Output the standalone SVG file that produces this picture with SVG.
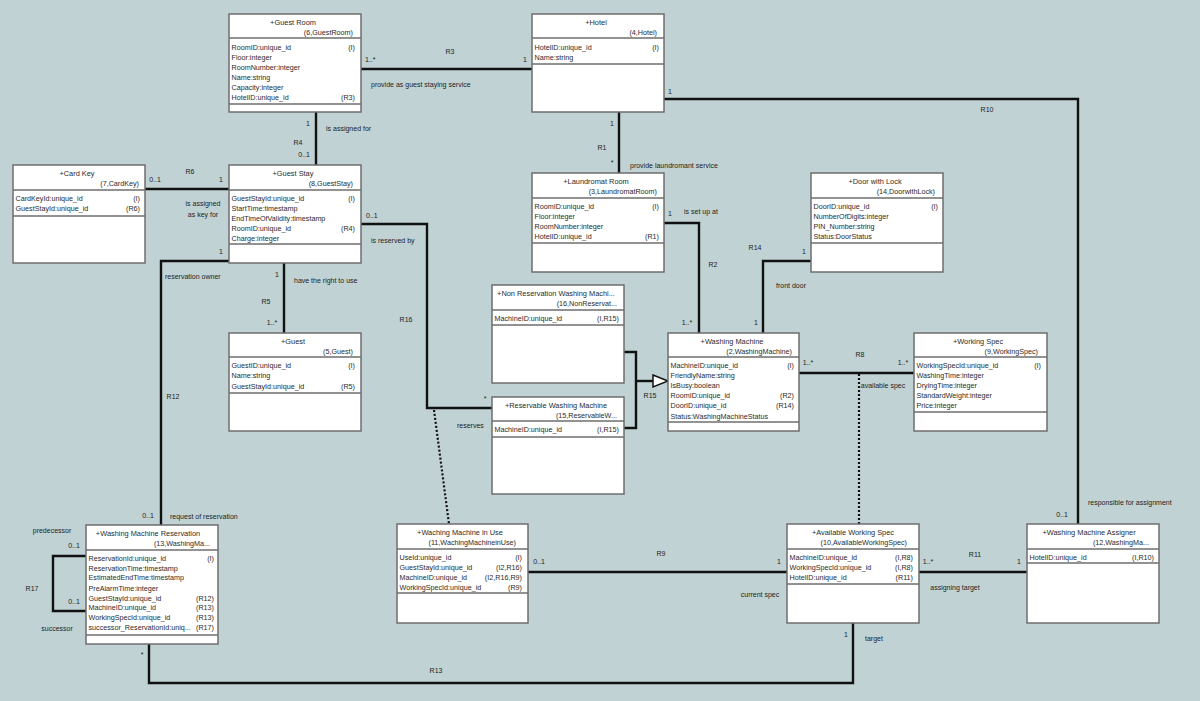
<svg xmlns="http://www.w3.org/2000/svg" width="1200" height="701" viewBox="0 0 1200 701">
<style>
text{font-family:"Liberation Sans",Arial,sans-serif;fill:#2a2a2a}
.box{fill:#fff;stroke:#6e6e6e;stroke-width:1.5}
.sep{stroke:#6e6e6e;stroke-width:1.5}
.t{font-size:7.4px;text-anchor:middle}
.st{font-size:7.2px;text-anchor:end}
.a{font-size:7.2px}
.k{font-size:7.2px;text-anchor:end}
.ln{fill:none;stroke:#111;stroke-width:2.4}
.dot{fill:none;stroke:#111;stroke-width:2.2;stroke-dasharray:2 2}
.lb{font-size:7px;fill:#1e1e1e}
.c{text-anchor:middle}
</style>
<rect x="0" y="0" width="1200" height="701" fill="#c0d2d3"/>

<g id="connectors">
<path class="ln" d="M361,69 H532"/>
<path class="ln" d="M664,99 H1078 V524"/>
<path class="ln" d="M316,112 V165"/>
<path class="ln" d="M145,189 H229"/>
<path class="ln" d="M619,112 V173"/>
<path class="ln" d="M664,223 H699 V333"/>
<path class="ln" d="M811,261 H763 V333"/>
<path class="ln" d="M624,352 H636 V428 H624"/>
<path class="ln" d="M636,381 H653"/>
<polygon points="653,375 668,381 653,387" fill="#fff" stroke="#111" stroke-width="1.5"/>
<path class="ln" d="M361,224 H427 V408 H492"/>
<path class="dot" d="M434,410 L449,524"/>
<path class="ln" d="M284,263 V333"/>
<path class="ln" d="M229,261 H161 V525"/>
<path class="ln" d="M86,556 H53 V611 H86"/>
<path class="ln" d="M149,644 V683 H853 V623"/>
<path class="ln" d="M528,572 H787"/>
<path class="ln" d="M919,572 H1027"/>
<path class="ln" d="M799,373 H914"/>
<path class="dot" d="M859,374 V524"/>

<text class="lb" x="365" y="62">1..*</text>
<text class="lb c" x="450" y="54">R3</text>
<text class="lb c" x="525" y="62">1</text>
<text class="lb" x="371" y="87">provide as guest staying service</text>
<text class="lb" x="668" y="94">1</text>
<text class="lb c" x="987" y="112">R10</text>
<text class="lb c" x="1062" y="517">0..1</text>
<text class="lb" x="1088" y="505">responsible for assignment</text>
<text class="lb c" x="308" y="126">1</text>
<text class="lb" x="326" y="131">is assigned for</text>
<text class="lb c" x="298" y="145">R4</text>
<text class="lb c" x="304" y="157">0..1</text>
<text class="lb c" x="155" y="182">0..1</text>
<text class="lb c" x="190" y="174">R6</text>
<text class="lb c" x="221" y="182">1</text>
<text class="lb c" x="203" y="206">is assigned</text>
<text class="lb c" x="203" y="217">as key for</text>
<text class="lb c" x="612" y="126">1</text>
<text class="lb c" x="602" y="150">R1</text>
<text class="lb c" x="612" y="165">*</text>
<text class="lb" x="630" y="168">provide laundromant service</text>
<text class="lb c" x="670" y="216">1</text>
<text class="lb" x="684" y="214">is set up at</text>
<text class="lb c" x="713" y="267">R2</text>
<text class="lb c" x="687" y="325">1..*</text>
<text class="lb c" x="804" y="254">1</text>
<text class="lb c" x="755" y="250">R14</text>
<text class="lb" x="776" y="288">front door</text>
<text class="lb c" x="756" y="325">1</text>
<text class="lb c" x="650" y="398">R15</text>
<text class="lb" x="366" y="218">0..1</text>
<text class="lb" x="371" y="243">is reserved by</text>
<text class="lb c" x="406" y="322">R16</text>
<text class="lb c" x="485" y="401">*</text>
<text class="lb" x="457" y="428">reserves</text>
<text class="lb c" x="277" y="277">1</text>
<text class="lb" x="294" y="283">have the right to use</text>
<text class="lb c" x="266" y="304">R5</text>
<text class="lb c" x="272" y="325">1..*</text>
<text class="lb c" x="221" y="254">1</text>
<text class="lb" x="165" y="279">reservation owner</text>
<text class="lb c" x="173" y="399">R12</text>
<text class="lb c" x="148" y="518">0..1</text>
<text class="lb" x="170" y="519">request of reservation</text>
<text class="lb c" x="52" y="533">predecessor</text>
<text class="lb c" x="74" y="548">0..1</text>
<text class="lb c" x="32" y="591">R17</text>
<text class="lb c" x="74" y="604">0..1</text>
<text class="lb c" x="57" y="631">successor</text>
<text class="lb c" x="142" y="657">*</text>
<text class="lb c" x="436" y="673">R13</text>
<text class="lb c" x="846" y="637">1</text>
<text class="lb" x="865" y="641">target</text>
<text class="lb c" x="539" y="564">0..1</text>
<text class="lb c" x="661" y="556">R9</text>
<text class="lb c" x="779" y="564">1</text>
<text class="lb c" x="760" y="597">current spec</text>
<text class="lb c" x="928" y="564">1..*</text>
<text class="lb c" x="975" y="557">R11</text>
<text class="lb c" x="1019" y="564">1</text>
<text class="lb c" x="955" y="590">assigning target</text>
<text class="lb c" x="808" y="365">1..*</text>
<text class="lb c" x="860" y="357">R8</text>
<text class="lb c" x="903" y="365">1..*</text>
<text class="lb c" x="883" y="388">available spec</text>
</g>

<g id="guest-room" transform="translate(229,14)">
<rect class="box" x="0" y="0" width="132" height="98"/>
<line class="sep" x1="0" y1="24" x2="132" y2="24"/>
<line class="sep" x1="0" y1="90" x2="132" y2="90"/>
<text class="t" x="64" y="10.5">+Guest Room</text>
<text class="st" x="124" y="20.5">(6,GuestRoom)</text>
<text class="a" x="2.5" y="35.5">RoomID:unique_id</text><text class="k" x="126" y="35.5">(I)</text>
<text class="a" x="2.5" y="45.5">Floor:integer</text>
<text class="a" x="2.5" y="55.5">RoomNumber:integer</text>
<text class="a" x="2.5" y="65.5">Name:string</text>
<text class="a" x="2.5" y="75.5">Capacity:integer</text>
<text class="a" x="2.5" y="85.5">HotelID:unique_id</text><text class="k" x="126" y="85.5">(R3)</text>
</g>

<g id="hotel" transform="translate(532,14)">
<rect class="box" x="0" y="0" width="132" height="98"/>
<line class="sep" x1="0" y1="24" x2="132" y2="24"/>
<line class="sep" x1="0" y1="50" x2="132" y2="50"/>
<text class="t" x="64" y="10.5">+Hotel</text>
<text class="st" x="125" y="20.5">(4,Hotel)</text>
<text class="a" x="2.5" y="35.5">HotelID:unique_id</text><text class="k" x="127" y="35.5">(I)</text>
<text class="a" x="2.5" y="45.5">Name:string</text>
</g>

<g id="card-key" transform="translate(13,165)">
<rect class="box" x="0" y="0" width="132" height="98"/>
<line class="sep" x1="0" y1="25" x2="132" y2="25"/>
<line class="sep" x1="0" y1="51" x2="132" y2="51"/>
<text class="t" x="64" y="10.5">+Card Key</text>
<text class="st" x="126" y="20.5">(7,CardKey)</text>
<text class="a" x="2.5" y="35.5">CardKeyId:unique_id</text><text class="k" x="127" y="35.5">(I)</text>
<text class="a" x="2.5" y="46">GuestStayId:unique_id</text><text class="k" x="127" y="46">(R6)</text>
</g>

<g id="guest-stay" transform="translate(229,165)">
<rect class="box" x="0" y="0" width="132" height="98"/>
<line class="sep" x1="0" y1="25" x2="132" y2="25"/>
<line class="sep" x1="0" y1="79" x2="132" y2="79"/>
<text class="t" x="64" y="10.5">+Guest Stay</text>
<text class="st" x="124" y="20.5">(8,GuestStay)</text>
<text class="a" x="2.5" y="35.5">GuestStayId:unique_id</text><text class="k" x="126" y="35.5">(I)</text>
<text class="a" x="2.5" y="45.7">StartTime:timestamp</text>
<text class="a" x="2.5" y="55.9">EndTimeOfValidity:timestamp</text>
<text class="a" x="2.5" y="66.1">RoomID:unique_id</text><text class="k" x="126" y="66.1">(R4)</text>
<text class="a" x="2.5" y="76.3">Charge:integer</text>
</g>

<g id="laundromat-room" transform="translate(532,173)">
<rect class="box" x="0" y="0" width="132" height="99"/>
<line class="sep" x1="0" y1="25" x2="132" y2="25"/>
<line class="sep" x1="0" y1="70" x2="132" y2="70"/>
<text class="t" x="64" y="10.5">+Laundromat Room</text>
<text class="st" x="125" y="20.5">(3,LaundromatRoom)</text>
<text class="a" x="2.5" y="35.5">RoomID:unique_id</text><text class="k" x="127" y="35.5">(I)</text>
<text class="a" x="2.5" y="46">Floor:integer</text>
<text class="a" x="2.5" y="56">RoomNumber:integer</text>
<text class="a" x="2.5" y="66">HotelID:unique_id</text><text class="k" x="127" y="66">(R1)</text>
</g>

<g id="door-with-lock" transform="translate(811,173)">
<rect class="box" x="0" y="0" width="132" height="99"/>
<line class="sep" x1="0" y1="25" x2="132" y2="25"/>
<line class="sep" x1="0" y1="70" x2="132" y2="70"/>
<text class="t" x="64" y="10.5">+Door with Lock</text>
<text class="st" x="124" y="20.5">(14,DoorwithLock)</text>
<text class="a" x="2.5" y="35.5">DoorID:unique_id</text><text class="k" x="127" y="35.5">(I)</text>
<text class="a" x="2.5" y="46">NumberOfDigits:integer</text>
<text class="a" x="2.5" y="56">PIN_Number:string</text>
<text class="a" x="2.5" y="66">Status:DoorStatus</text>
</g>

<g id="guest" transform="translate(229,333)">
<rect class="box" x="0" y="0" width="132" height="98"/>
<line class="sep" x1="0" y1="24" x2="132" y2="24"/>
<line class="sep" x1="0" y1="60" x2="132" y2="60"/>
<text class="t" x="64" y="10.5">+Guest</text>
<text class="st" x="124" y="20.5">(5,Guest)</text>
<text class="a" x="2.5" y="34.5">GuestID:unique_id</text><text class="k" x="126" y="34.5">(I)</text>
<text class="a" x="2.5" y="45">Name:string</text>
<text class="a" x="2.5" y="55.5">GuestStayId:unique_id</text><text class="k" x="126" y="55.5">(R5)</text>
</g>

<g id="non-reservation-washing-machine" transform="translate(492,285)">
<rect class="box" x="0" y="0" width="132" height="98"/>
<line class="sep" x1="0" y1="25" x2="132" y2="25"/>
<line class="sep" x1="0" y1="40" x2="132" y2="40"/>
<text class="t" x="64" y="10.5">+Non Reservation Washing Machi...</text>
<text class="st" x="125" y="20.5">(16,NonReservat...</text>
<text class="a" x="2.5" y="35.5">MachineID:unique_id</text><text class="k" x="127" y="35.5">(I,R15)</text>
</g>

<g id="reservable-washing-machine" transform="translate(492,397)">
<rect class="box" x="0" y="0" width="132" height="97"/>
<line class="sep" x1="0" y1="24" x2="132" y2="24"/>
<line class="sep" x1="0" y1="40" x2="132" y2="40"/>
<text class="t" x="64" y="10.5">+Reservable Washing Machine</text>
<text class="st" x="125" y="20.5">(15,ReservableW...</text>
<text class="a" x="2.5" y="34.5">MachineID:unique_id</text><text class="k" x="127" y="34.5">(I,R15)</text>
</g>

<g id="washing-machine" transform="translate(668,333)">
<rect class="box" x="0" y="0" width="131" height="98"/>
<line class="sep" x1="0" y1="24" x2="131" y2="24"/>
<line class="sep" x1="0" y1="89" x2="131" y2="89"/>
<text class="t" x="64" y="10.5">+Washing Machine</text>
<text class="st" x="124" y="20.5">(2,WashingMachine)</text>
<text class="a" x="2.5" y="34.5">MachineID:unique_id</text><text class="k" x="126" y="34.5">(I)</text>
<text class="a" x="2.5" y="45">FriendlyName:string</text>
<text class="a" x="2.5" y="55">IsBusy:boolean</text>
<text class="a" x="2.5" y="65">RoomID:unique_id</text><text class="k" x="126" y="65">(R2)</text>
<text class="a" x="2.5" y="75">DoorID:unique_id</text><text class="k" x="126" y="75">(R14)</text>
<text class="a" x="2.5" y="85.5">Status:WashingMachineStatus</text>
</g>

<g id="working-spec" transform="translate(914,333)">
<rect class="box" x="0" y="0" width="133" height="98"/>
<line class="sep" x1="0" y1="24" x2="133" y2="24"/>
<line class="sep" x1="0" y1="79" x2="133" y2="79"/>
<text class="t" x="64" y="10.5">+Working Spec</text>
<text class="st" x="124" y="20.5">(9,WorkingSpec)</text>
<text class="a" x="2.5" y="34.5">WorkingSpecId:unique_id</text><text class="k" x="127" y="34.5">(I)</text>
<text class="a" x="2.5" y="45">WashingTime:integer</text>
<text class="a" x="2.5" y="55">DryingTime:integer</text>
<text class="a" x="2.5" y="65">StandardWeight:integer</text>
<text class="a" x="2.5" y="75">Price:integer</text>
</g>

<g id="washing-machine-reservation" transform="translate(86,525)">
<rect class="box" x="0" y="0" width="132" height="119"/>
<line class="sep" x1="0" y1="25" x2="132" y2="25"/>
<line class="sep" x1="0" y1="110" x2="132" y2="110"/>
<text class="t" x="62" y="10.5">+Washing Machine Reservation</text>
<text class="st" x="124" y="20.5">(13,WashingMa...</text>
<text class="a" x="2.5" y="36">ReservationId:unique_id</text><text class="k" x="128" y="36">(I)</text>
<text class="a" x="2.5" y="45.7">ReservationTime:timestamp</text>
<text class="a" x="2.5" y="55.4">EstimatedEndTime:timestamp</text>
<text class="a" x="2.5" y="66">PreAlarmTime:integer</text>
<text class="a" x="2.5" y="75.7">GuestStayId:unique_id</text><text class="k" x="128" y="75.7">(R12)</text>
<text class="a" x="2.5" y="85.4">MachineID:unique_id</text><text class="k" x="128" y="85.4">(R13)</text>
<text class="a" x="2.5" y="95.1">WorkingSpecId:unique_id</text><text class="k" x="128" y="95.1">(R13)</text>
<text class="a" x="2.5" y="105">successor_ReservationId:uniq...</text><text class="k" x="128" y="105">(R17)</text>
</g>

<g id="washing-machine-in-use" transform="translate(397,524)">
<rect class="box" x="0" y="0" width="131" height="99"/>
<line class="sep" x1="0" y1="25" x2="131" y2="25"/>
<line class="sep" x1="0" y1="69" x2="131" y2="69"/>
<text class="t" x="63" y="10.5">+Waching Machine in Use</text>
<text class="st" x="119" y="20.5">(11,WachingMachineinUse)</text>
<text class="a" x="2.5" y="35.5">UseId:unique_id</text><text class="k" x="125" y="35.5">(I)</text>
<text class="a" x="2.5" y="46">GuestStayId:unique_id</text><text class="k" x="125" y="46">(I2,R16)</text>
<text class="a" x="2.5" y="55.5">MachineID:unique_id</text><text class="k" x="125" y="55.5">(I2,R16,R9)</text>
<text class="a" x="2.5" y="65.5">WorkingSpecId:unique_id</text><text class="k" x="125" y="65.5">(R9)</text>
</g>

<g id="available-working-spec" transform="translate(787,524)">
<rect class="box" x="0" y="0" width="132" height="99"/>
<line class="sep" x1="0" y1="25" x2="132" y2="25"/>
<line class="sep" x1="0" y1="60" x2="132" y2="60"/>
<text class="t" x="66" y="10.5">+Available Working Spec</text>
<text class="st" x="120" y="20.5">(10,AvailableWorkingSpec)</text>
<text class="a" x="2.5" y="35.5">MachineID:unique_id</text><text class="k" x="126" y="35.5">(I,R8)</text>
<text class="a" x="2.5" y="46">WorkingSpecId:unique_id</text><text class="k" x="126" y="46">(I,R8)</text>
<text class="a" x="2.5" y="55.5">HotelID:unique_id</text><text class="k" x="126" y="55.5">(R11)</text>
</g>

<g id="washing-machine-assigner" transform="translate(1027,524)">
<rect class="box" x="0" y="0" width="132" height="99"/>
<line class="sep" x1="0" y1="25" x2="132" y2="25"/>
<line class="sep" x1="0" y1="39" x2="132" y2="39"/>
<text class="t" x="62" y="10.5">+Washing Machine Assigner</text>
<text class="st" x="122" y="20.5">(12,WashingMa...</text>
<text class="a" x="2.5" y="35.5">HotelID:unique_id</text><text class="k" x="127" y="35.5">(I,R10)</text>
</g>
</svg>
